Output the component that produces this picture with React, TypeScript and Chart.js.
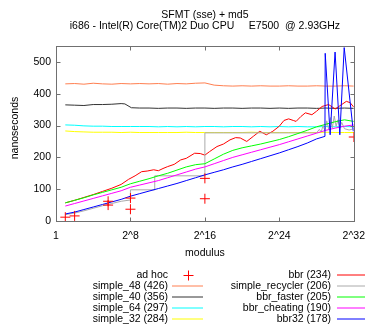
import { useEffect, useRef } from 'react';
import { Chart, registerables } from 'chart.js';
Chart.register(...registerables);

const FONT = '"Liberation Sans", Arial, sans-serif';

const xTicks = [0, 8, 16, 24, 32];
const xTickLabels = ['1', '2^8', '2^16', '2^24', '2^32'];
const yTicks = [0, 100, 200, 300, 400, 500];

const titleLines = ['SFMT (sse) + md5', 'i686 - Intel(R) Core(TM)2 Duo CPU     E7500  @ 2.93GHz'];

const seriesLabels = ['ad hoc', 'simple_48 (426)', 'simple_40 (356)', 'simple_64 (297)', 'simple_32 (284)', 'bbr (234)', 'simple_recycler (206)', 'bbr_faster (205)', 'bbr_cheating (190)', 'bbr32 (178)'];
const seriesColors = ['#ff0000', '#ff7f50', '#333333', '#00ffff', '#ffff00', '#ff0000', '#aaaaaa', '#00ff00', '#ff00ff', '#0000ff'];

// log2(modulus) sample grid
const L = [1, 2, 3, 4, 5, 6, 7, 8, 9, 10, 11, 12, 13, 14, 15, 16, 17, 18, 19, 20, 21, 22, 23, 24, 25, 26, 27, 28, 29, 30, 31, 32];

const adHocX = [1, 2, 5.6, 5.6, 8, 8, 16, 16, 32];
const adHocY = [12, 16, 50, 62, 72, 37, 134, 70, 264];

const simple48 = [431, 432, 430, 433, 431, 430, 432, 431, 432, 431, 432, 430, 432, 431, 433, 434, 427, 425, 424, 425, 424, 425, 424, 424, 425, 424, 424, 425, 424, 424, 425, 424];

const simple40X = [1, 2, 3, 4, 5, 6, 7, 7.4, 8.1, 9, 10, 11, 12, 13, 14, 15, 16, 17, 18, 19, 20, 21, 22, 23, 24, 25, 26, 27, 28, 29, 30, 31, 32];
const simple40Y = [365, 364, 363, 366, 366, 367, 369, 368, 356, 355, 355, 354, 355, 355, 354, 355, 355, 354, 355, 355, 354, 355, 355, 354, 355, 354, 355, 355, 354, 355, 354, 355, 354];

const simple64 = [302, 301, 299, 298, 298, 297, 297, 297, 297, 297, 296, 297, 296, 297, 296, 297, 297, 296, 297, 297, 296, 297, 296, 297, 296, 297, 296, 296, 297, 296, 297, 296];

const simple32 = [283, 281, 280, 279, 279, 279, 278, 279, 278, 278, 278, 278, 278, 279, 278, 278, 278, 278, 278, 278, 279, 278, 278, 278, 278, 278, 278, 278, 279, 278, 278, 278];

const bbrX = [1, 2, 3, 4, 5, 6, 7, 7.8, 8.5, 9.2, 9.8, 10.5, 11, 11.5, 12, 12.7, 13.4, 14, 14.9, 15.5, 16, 16.5, 17.3, 18, 18.7, 19.3, 19.8, 20.5, 21.2, 21.9, 22.6, 23.3, 24, 24.5, 25, 25.5, 25.8, 26.3, 26.8, 27.5, 28, 28.6, 29.3, 30, 30.5, 31.2, 31.6, 32];
const bbrY = [57, 65, 74, 83, 93, 103, 115, 131, 142, 155, 157, 161, 158, 165, 171, 178, 192, 197, 213, 212, 207, 218, 234, 242, 255, 262, 261, 250, 266, 282, 271, 282, 298, 316, 321, 316, 313, 328, 340, 334, 345, 360, 366, 352, 362, 376, 372, 358];

const recyclerX = [1, 2, 3, 4, 5, 6, 7, 7.99, 8, 10.6, 10.61, 15.99, 16, 28, 28.3, 28.5, 28.7, 28.9, 29.1, 29.3, 29.5, 29.7, 29.9, 30.1, 30.3, 30.5, 30.7, 31, 31.5, 32];
const recyclerY = [20, 25, 32, 40, 48, 55, 62, 66, 98, 98, 142, 142, 277, 277, 288, 280, 300, 283, 315, 288, 325, 293, 330, 298, 318, 292, 310, 290, 286, 290];

const bbrFaster = [57, 65, 73, 82, 90, 98, 106, 117, 125, 133, 142, 150, 160, 170, 177, 180, 195, 210, 222, 230, 236, 242, 249, 256, 265, 275, 285, 296, 304, 312, 318, 313];

const bbrCheating = [47, 55, 63, 71, 79, 87, 95, 106, 113, 120, 127, 136, 145, 154, 163, 170, 180, 190, 200, 208, 216, 224, 232, 240, 249, 258, 267, 276, 285, 292, 298, 302];

const bbr32X = [1, 2, 3, 4, 5, 6, 7, 8, 9, 10, 11, 12, 13, 14, 15, 16, 17, 18, 19, 20, 21, 22, 23, 24, 25, 26, 27, 28, 28.9, 28.93, 29.46, 29.99, 30.5, 30.97, 31.95];
const bbr32Y = [22, 28, 36, 44, 52, 60, 68, 78, 86, 94, 102, 110, 118, 127, 136, 145, 153, 161, 170, 178, 187, 196, 205, 214, 224, 234, 245, 258, 266, 527, 271, 531, 271, 545, 282];

const zip = (xs: number[], ys: number[]) => xs.map((x, i) => ({ x, y: ys[i] }));

const decor = {
  id: 'decor',
  afterDraw(chart: any) {
    const ctx = chart.ctx as CanvasRenderingContext2D;
    const a = chart.chartArea;
    const xs = chart.scales.x;
    const ys = chart.scales.y;
    ctx.save();
    ctx.strokeStyle = '#707070';
    ctx.lineWidth = 1;
    const l = Math.round(a.left) + 0.5, r = Math.round(a.right) + 0.5;
    const t = Math.round(a.top) + 0.5, b = Math.round(a.bottom) + 0.5;
    ctx.strokeRect(l, t, r - l, b - t);
    const tl = 4;
    ctx.beginPath();
    for (const v of xTicks) {
      const px = Math.round(xs.getPixelForValue(v)) + 0.5;
      ctx.moveTo(px, b); ctx.lineTo(px, b - tl);
      ctx.moveTo(px, t); ctx.lineTo(px, t + tl);
    }
    for (const v of yTicks) {
      const py = Math.round(ys.getPixelForValue(v)) + 0.5;
      ctx.moveTo(l, py); ctx.lineTo(l + tl, py);
      ctx.moveTo(r, py); ctx.lineTo(r - tl, py);
    }
    ctx.stroke();

    ctx.fillStyle = '#000';
    ctx.font = `10.5px ${FONT}`;
    ctx.textBaseline = 'middle';
    ctx.textAlign = 'center';
    const cx = (a.left + a.right) / 2;
    ctx.fillText(titleLines[0], cx, 15.5);
    ctx.fillText(titleLines[1], cx, 26);
    ctx.fillText('modulus', cx, 253);
    ctx.save();
    ctx.translate(15, 128);
    ctx.rotate(-Math.PI / 2);
    ctx.fillText('nanoseconds', 0, 0);
    ctx.restore();

    seriesLabels.forEach((label, i) => {
      const col = i < 5 ? 0 : 1;
      const row = i % 5;
      const y = 275 + row * 11;
      const textRight = col === 0 ? 168 : 331;
      const x0 = col === 0 ? 172 : 337;
      const x1 = col === 0 ? 203 : 365;
      ctx.textAlign = 'right';
      ctx.fillStyle = '#000';
      ctx.fillText(label, textRight, y);
      ctx.strokeStyle = seriesColors[i];
      ctx.lineWidth = 1;
      ctx.beginPath();
      const yy = Math.round(y);
      if (i === 0) {
        const mx = Math.round((x0 + x1) / 2) + 0.5;
        const yc = yy + 0.5;
        ctx.moveTo(mx - 5, yc); ctx.lineTo(mx + 5, yc);
        ctx.moveTo(mx, yc - 5); ctx.lineTo(mx, yc + 5);
      } else {
        ctx.moveTo(x0, yy); ctx.lineTo(x1, yy);
      }
      ctx.stroke();
    });
    ctx.restore();
  },
};

export default function App() {
  const ref = useRef<HTMLCanvasElement>(null);
  useEffect(() => {
    document.body.style.margin = '0';
    Chart.defaults.font.family = FONT;
    Chart.defaults.font.size = 10.5;
    Chart.defaults.color = '#000';
    const line = (i: number, data: any[]) => ({
      label: seriesLabels[i], data, borderColor: seriesColors[i], backgroundColor: seriesColors[i], borderWidth: 1,
      pointRadius: 0, fill: false, tension: 0, order: 10 - i,
    });
    const datasets: any[] = [
      {
        label: seriesLabels[0], data: zip(adHocX, adHocY), borderColor: seriesColors[0], backgroundColor: seriesColors[0],
        showLine: false, pointStyle: 'cross', pointRadius: 5, borderWidth: 1, order: 0,
      },
      line(1, zip(L, simple48)),
      line(2, zip(simple40X, simple40Y)),
      line(3, zip(L, simple64)),
      line(4, zip(L, simple32)),
      line(5, zip(bbrX, bbrY)),
      line(6, zip(recyclerX, recyclerY)),
      line(7, zip(L, bbrFaster)),
      line(8, zip(L, bbrCheating)),
      line(9, zip(bbr32X, bbr32Y)),
    ];
    const chart = new Chart(ref.current!, {
      type: 'line',
      data: { datasets },
      options: {
        animation: false,
        responsive: false,
        layout: { padding: { left: 0, top: 46, right: 15, bottom: 0 } },
        plugins: { legend: { display: false }, tooltip: { enabled: false }, title: { display: false } },
        scales: {
          x: {
            type: 'linear', min: 0, max: 32,
            grid: { display: false, drawTicks: false },
            border: { display: false },
            afterBuildTicks: (s: any) => { s.ticks = xTicks.map((v) => ({ value: v })); },
            afterFit: (s: any) => { s.height = 109; },
            ticks: { padding: 9, maxRotation: 0, autoSkip: false, callback: (v: any) => xTickLabels[xTicks.indexOf(Number(v))] },
          },
          y: {
            type: 'linear', min: 0, max: 550,
            grid: { display: false, drawTicks: false },
            border: { display: false },
            afterBuildTicks: (s: any) => { s.ticks = yTicks.map((v) => ({ value: v })); },
            afterFit: (s: any) => { s.width = 56; },
            ticks: { padding: 5, autoSkip: false },
          },
        },
      },
      plugins: [decor],
    });
    return () => chart.destroy();
  }, []);
  return <canvas ref={ref} width={374} height={330} style={{ display: 'block' }} />;
}
